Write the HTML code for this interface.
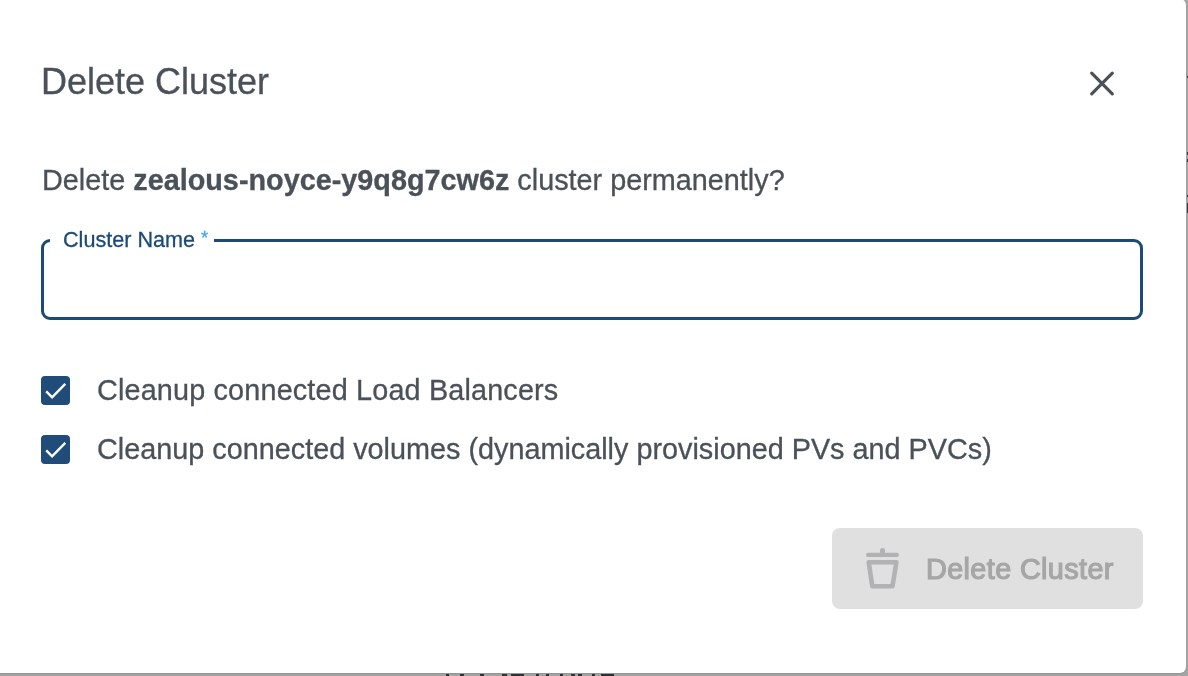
<!DOCTYPE html>
<html><head><meta charset="utf-8">
<style>
.t,.cl,#lbl,#btxt{will-change:transform;}
html,body{margin:0;padding:0;width:1188px;height:676px;overflow:hidden;background:#a6a6a6;font-family:"Liberation Sans",sans-serif;}
.modal{position:absolute;left:-20px;top:-1px;width:1206px;height:674px;background:#fff;border-radius:6px;box-shadow:0 1px 2px rgba(0,0,0,0.12);}
.t{position:absolute;white-space:nowrap;color:#4b5159;-webkit-text-stroke:0.3px #4b5159;}
#title{left:41px;top:60px;font-size:36px;line-height:44px;}
#sub{left:41.5px;top:163px;font-size:28.8px;line-height:34px;}
#sub b{font-weight:700;}
.field{position:absolute;left:41px;top:239px;width:1096px;height:75px;border:3px solid #1c4a77;border-radius:9px;}
.notch{position:absolute;left:50px;top:236px;width:164px;height:8px;background:#fff;}
#lbl{position:absolute;left:63px;top:227px;font-size:21.6px;line-height:26px;color:#1c4a77;white-space:nowrap;-webkit-text-stroke:0.3px #1c4a77;}
#lbl span{color:#4aa3f0;-webkit-text-stroke:0.3px #4aa3f0;font-size:18.5px;position:relative;top:-3px;}
.cb{position:absolute;left:41px;width:29px;height:29px;background:#1f4c79;border-radius:4px;}
.cb svg{position:absolute;left:0;top:0;}
.cl{position:absolute;left:97px;font-size:28.8px;line-height:34px;color:#4b5159;white-space:nowrap;-webkit-text-stroke:0.3px #4b5159;}
.btn{position:absolute;left:832px;top:528px;width:311px;height:81px;background:#e0e0e0;border-radius:8px;}
#btxt{position:absolute;left:926px;top:552px;font-size:28.8px;line-height:34px;font-weight:400;-webkit-text-stroke:1.2px #a6a6a6;letter-spacing:0.38px;color:#a6a6a6;white-space:nowrap;}
</style></head><body>
<div class="modal"></div>
<div style="position:absolute;left:446px;top:673.5px;width:3px;height:3px;background:#2e3034"></div><div style="position:absolute;left:460px;top:673.5px;width:4px;height:3px;background:#2e3034"></div><div style="position:absolute;left:480px;top:673.5px;width:4px;height:3px;background:#2e3034"></div><div style="position:absolute;left:502px;top:673.5px;width:5px;height:3px;background:#2e3034"></div><div style="position:absolute;left:511px;top:673.5px;width:13px;height:3px;background:#2e3034"></div><div style="position:absolute;left:535.5px;top:673.5px;width:3.5px;height:3px;background:#2e3034"></div><div style="position:absolute;left:545.5px;top:673.5px;width:3.5px;height:3px;background:#2e3034"></div><div style="position:absolute;left:559.5px;top:673.5px;width:3.5px;height:3px;background:#2e3034"></div><div style="position:absolute;left:570.5px;top:673.5px;width:4.0px;height:3px;background:#2e3034"></div><div style="position:absolute;left:578px;top:673.5px;width:3.5px;height:3px;background:#2e3034"></div><div style="position:absolute;left:591.5px;top:673.5px;width:3.5px;height:3px;background:#2e3034"></div><div style="position:absolute;left:600.5px;top:673.5px;width:13.5px;height:3px;background:#2e3034"></div><div style="position:absolute;left:1186.5px;top:76px;width:1.5px;height:2px;background:#3a3c40"></div><div style="position:absolute;left:1186.5px;top:152px;width:1.5px;height:3px;background:#3a3c40"></div><div style="position:absolute;left:1186.5px;top:159px;width:1.5px;height:3px;background:#3a3c40"></div><div style="position:absolute;left:1186.5px;top:195px;width:1.5px;height:2px;background:#3a3c40"></div><div style="position:absolute;left:1186.5px;top:203px;width:1.5px;height:10px;background:#3a3c40"></div>
<div class="t" id="title">Delete Cluster</div>
<svg style="position:absolute;left:1080px;top:60px" width="45" height="45" viewBox="1080 60 45 45">
<path d="M1091.7 73.2 L1112.3 93.8 M1112.3 73.2 L1091.7 93.8" stroke="#4b5159" stroke-width="3.2" stroke-linecap="round" fill="none"/>
</svg>
<div class="t" id="sub">Delete <b>zealous-noyce-y9q8g7cw6z</b> cluster permanently?</div>
<div class="field"></div>
<div class="notch"></div>
<div id="lbl">Cluster Name <span>*</span></div>
<div class="cb" style="top:376px"><svg width="29" height="29" viewBox="0 0 29 29"><path d="M5.2 15.4 L11.1 21.4 L24.3 7.8" stroke="#fff" stroke-width="2.4" fill="none"/></svg></div>
<div class="cl" style="top:373px;letter-spacing:0.16px">Cleanup connected Load Balancers</div>
<div class="cb" style="top:435px"><svg width="29" height="29" viewBox="0 0 29 29"><path d="M5.2 15.4 L11.1 21.4 L24.3 7.8" stroke="#fff" stroke-width="2.4" fill="none"/></svg></div>
<div class="cl" style="top:432px">Cleanup connected volumes (dynamically provisioned PVs and PVCs)</div>
<div class="btn"></div>
<svg style="position:absolute;left:860px;top:545px" width="45" height="50" viewBox="860 545 45 50">
<g fill="#b1b2b4">
<rect x="866" y="552.8" width="33" height="4.2" rx="2.1"/>
<rect x="880" y="548" width="5" height="8" rx="2.5"/>

</g>
<path d="M868.7 562.2 L896.4 562.2 L892.5 586.2 L872.3 586.2 Z" fill="none" stroke="#b1b2b4" stroke-width="4.6" stroke-linejoin="round"/>
</svg>
<div id="btxt">Delete Cluster</div>
</body></html>
